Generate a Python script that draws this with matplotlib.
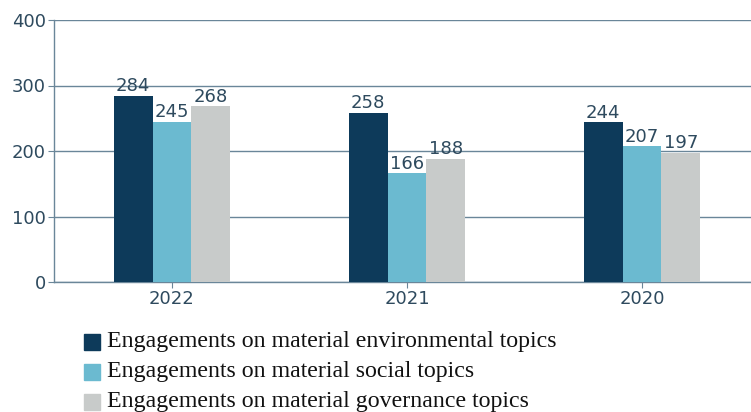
import matplotlib
matplotlib.use("Agg")
import matplotlib.pyplot as plt
import numpy as np
from matplotlib.patches import Rectangle

years = ["2022", "2021", "2020"]
environmental = [284, 258, 244]
social = [245, 166, 207]
governance = [268, 188, 197]
series_labels = ["Engagements on material environmental topics",
                 "Engagements on material social topics",
                 "Engagements on material governance topics"]
colors = ["#0d3a5a", "#6bbad0", "#c8cbca"]
yticks = [0, 100, 200, 300, 400]

plt.rcParams["font.family"] = ["DejaVu Sans"]

fig = plt.figure(figsize=(7.51, 4.12), dpi=100)
ax = fig.add_axes([54/751, 1-282/412, (751-54)/751, 262/412])

x = np.arange(len(years))
w = 0.165
line_c = "#6a8699"
text_c = "#2e4a5e"
for i, (vals, c) in enumerate(zip([environmental, social, governance], colors)):
    pos = x + (i - 1) * w
    ax.bar(pos, vals, width=w, color=c, zorder=3)
    for p, v in zip(pos, vals):
        ax.text(p, v + 1, str(v), ha="center", va="bottom", fontsize=13,
                color=text_c, zorder=4)

ax.set_xlim(-0.502, 2.464)
ax.set_ylim(0, 400)
ax.set_yticks(yticks)
ax.set_xticks(x)
ax.set_xticklabels(years)
ax.grid(axis="y", color=line_c, linewidth=1, zorder=1)
for s in ["top", "right"]:
    ax.spines[s].set_visible(False)
for s in ["left", "bottom"]:
    ax.spines[s].set_color(line_c)
    ax.spines[s].set_linewidth(1)
ax.tick_params(axis="both", colors=line_c, length=4, labelsize=13,
               labelcolor=text_c, pad=2)

# legend
leg_font = {"family": "Liberation Serif", "size": 17.2}
for i, (lab, c) in enumerate(zip(series_labels, colors)):
    top = 334 + i * 30
    fig.patches.append(Rectangle((84/751, 1-(top+16)/412), 16/751, 16/412,
                                 transform=fig.transFigure, color=c, figure=fig))
    fig.text(107/751, 1-(top+13)/412, lab, fontdict=leg_font, va="baseline",
             color="#111111")

fig.savefig("out.png", dpi=100)
